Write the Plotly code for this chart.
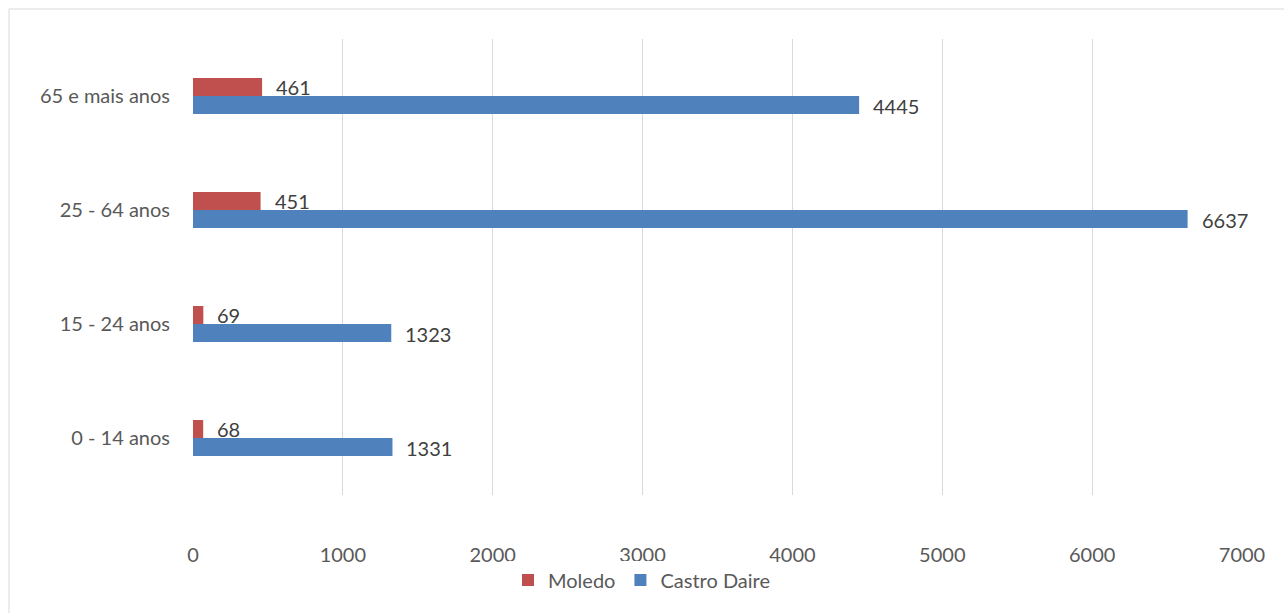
import plotly.graph_objects as go

categories = ["0 - 14 anos", "15 - 24 anos", "25 - 64 anos", "65 e mais anos"]
moledo = [68, 69, 451, 461]
castro_daire = [1331, 1323, 6637, 4445]
x_ticks = [0, 1000, 2000, 3000, 4000, 5000, 6000, 7000]

RED = "#C0504D"
BLUE = "#4F81BD"
FONT = "Lato"
FS = 20

W, H = 1284, 613
L, R, T, B = 193, 42, 39, 118
pw, ph = W - L - R, H - T - B

fig = go.Figure()
fig.add_trace(go.Bar(y=categories, x=castro_daire, orientation="h", name="Castro Daire",
                     marker=dict(color=BLUE, line=dict(width=0))))
fig.add_trace(go.Bar(y=categories, x=moledo, orientation="h", name="Moledo",
                     marker=dict(color=RED, line=dict(width=0))))

annotations = []
for c, v in zip(categories, moledo):
    annotations.append(dict(x=v, y=c, text=str(v), showarrow=False, xanchor="left",
                            xshift=12, yshift=9, font=dict(family=FONT, size=FS, color="#404040")))
for c, v in zip(categories, castro_daire):
    annotations.append(dict(x=v, y=c, text=str(v), showarrow=False, xanchor="left",
                            xshift=12, yshift=-10, font=dict(family=FONT, size=FS, color="#404040")))

border = dict(type="rect", xref="paper", yref="paper",
              x0=(9 - L) / pw, x1=(W + 10 - L) / pw,
              y0=-(H + 10 - (T + ph)) / ph, y1=1 + (T - 9) / ph,
              line=dict(color="#D9D9D9", width=1), fillcolor="rgba(0,0,0,0)", layer="below")

fig.update_layout(
    width=W, height=H,
    margin=dict(l=L, r=R, t=T, b=B, pad=0, autoexpand=False),
    paper_bgcolor="white", plot_bgcolor="white",
    barmode="group", bargap=0.684, bargroupgap=0,
    font=dict(family=FONT, size=FS, color="#595959"),
    xaxis=dict(range=[0, 7000], tickvals=x_ticks, showgrid=True, gridcolor="#D9D9D9", gridwidth=1,
               zeroline=False, showline=False, ticks="", ticklen=0, ticklabelstandoff=46,
               automargin=False, tickfont=dict(family=FONT, size=FS, color="#595959")),
    yaxis=dict(categoryorder="array", categoryarray=categories, showgrid=False, zeroline=False,
               showline=False, ticks="", ticklabelstandoff=22, automargin=False,
               tickfont=dict(family=FONT, size=FS, color="#595959")),
    legend=dict(orientation="h", xref="container", yref="container", x=0.5, y=33 / H,
                xanchor="center", yanchor="middle", traceorder="reversed",
                font=dict(family=FONT, size=FS, color="#595959")),
    annotations=annotations,
    shapes=[border],
)

fig.write_html("out.html")
